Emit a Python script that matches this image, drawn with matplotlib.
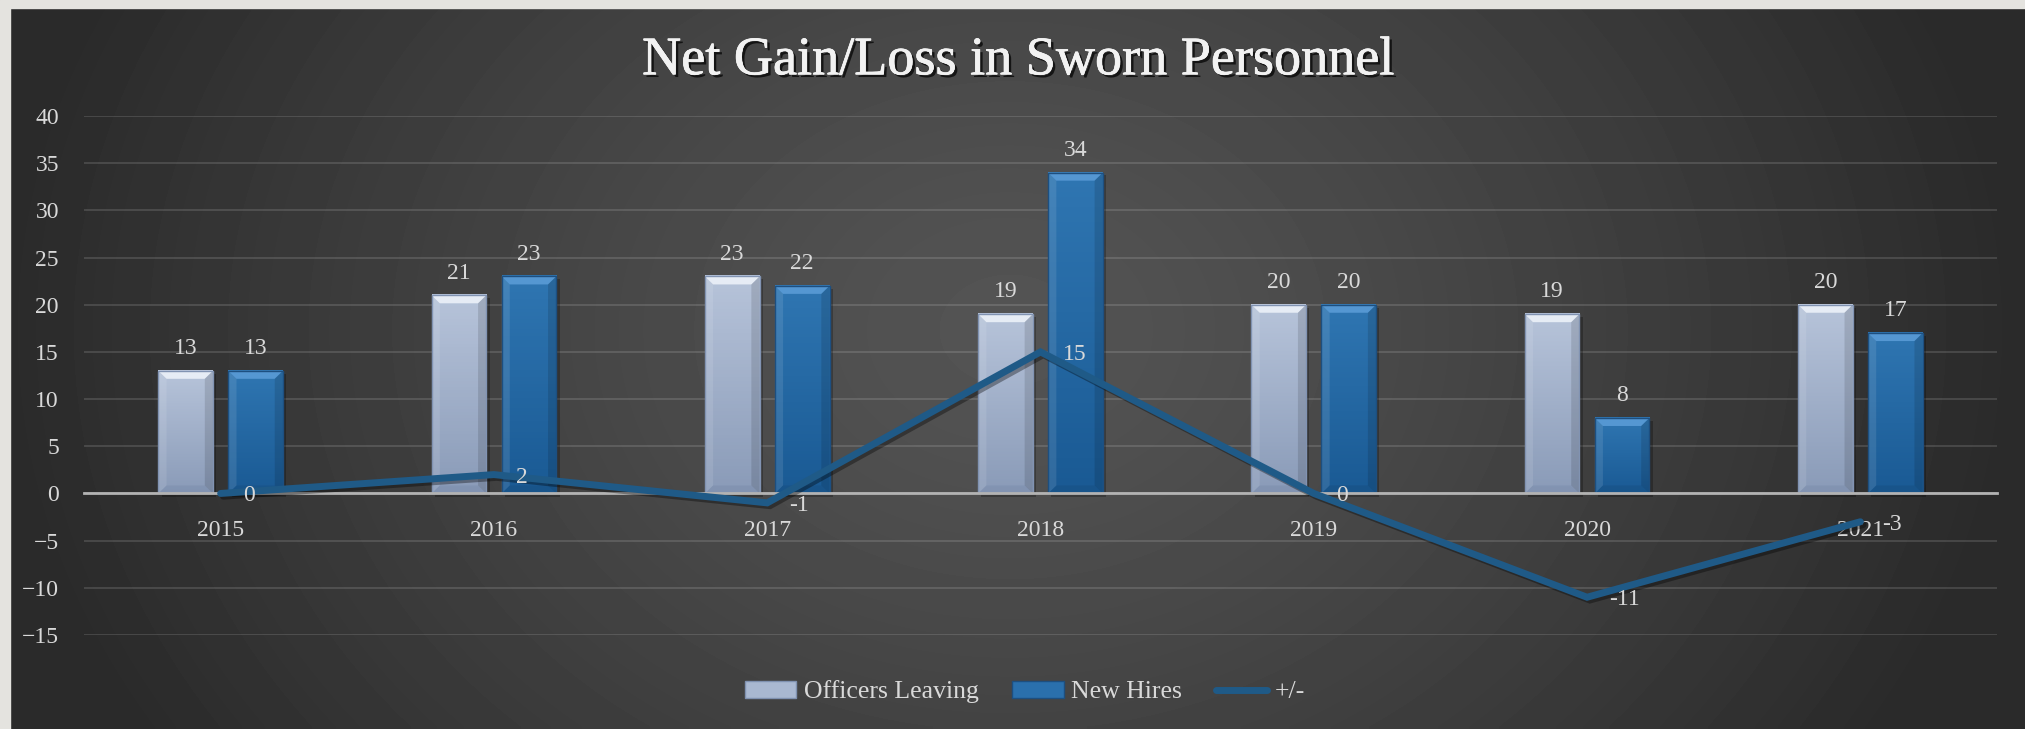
import numpy as np
import matplotlib.pyplot as plt
import matplotlib.patheffects as pe
from matplotlib.patches import Polygon, Rectangle, Patch
from matplotlib.lines import Line2D
from matplotlib.colors import LinearSegmentedColormap

# data
years = ["2015", "2016", "2017", "2018", "2019", "2020", "2021"]
officers_leaving = [13, 21, 23, 19, 20, 19, 20]
new_hires = [13, 23, 22, 34, 20, 8, 17]
net_change = [0, 2, -1, 15, 0, -11, -3]
y_ticks = [-15, -10, -5, 0, 5, 10, 15, 20, 25, 30, 35, 40]

plt.rcParams['font.family'] = ['Liberation Serif', 'DejaVu Serif']
text_color = '#d9d9d9'

fig = plt.figure(figsize=(20.25, 7.29), dpi=100)

# dark radial background with light strips at left/top
bg = fig.add_axes([0, 0, 1, 1], zorder=-10)
xx, yy = np.meshgrid(np.linspace(0, 2025, 405), np.linspace(0, 729, 146))
r = np.sqrt(((xx - 1010) / 1010) ** 2 + ((yy - 330) / 800) ** 2)
shade = (84 - 42 * np.clip(r, 0, 1) ** 1.3) / 255
bg.imshow(shade, cmap='gray', vmin=0, vmax=1, extent=[0, 2025, 729, 0],
          aspect='auto', interpolation='bilinear')
bg.add_patch(Rectangle((0, 0), 10, 729, color='#e4e3df'))
bg.add_patch(Rectangle((0, 0), 2025, 8, color='#e4e3df'))
bg.set_xlim(0, 2025)
bg.set_ylim(729, 0)
bg.axis('off')

ax = fig.add_axes([84 / 2025, 1 - 635 / 729, (1997 - 84) / 2025, (635 - 116) / 729])
ax.patch.set_alpha(0)

bar_w = 0.2
offset = 0.128
bx, by = 0.03, 0.85


def draw_bar(x, h, c_top, c_bot, bev_top, bev_bot, edge):
    x0, x1 = x - bar_w / 2, x + bar_w / 2
    # soft shadow
    ax.add_patch(Rectangle((x0 + 0.012, -0.4), bar_w, h + 0.1, color='black',
                           alpha=0.25, lw=0, zorder=1.5))
    cmap = LinearSegmentedColormap.from_list('g', [c_top, c_bot])
    ax.imshow(np.linspace(0, 1, 64).reshape(-1, 1), cmap=cmap,
              extent=[x0, x1, 0, h], aspect='auto', zorder=2)
    ax.add_patch(Polygon([(x0, h), (x1, h), (x1 - bx, h - by), (x0 + bx, h - by)],
                         color=bev_top, lw=0, zorder=2.1))
    ax.add_patch(Polygon([(x0, 0), (x1, 0), (x1 - bx, by), (x0 + bx, by)],
                         color=bev_bot, alpha=0.35, lw=0, zorder=2.1))
    ax.add_patch(Polygon([(x0, 0), (x0, h), (x0 + bx, h - by), (x0 + bx, by)],
                         color='white', alpha=0.1, lw=0, zorder=2.1))
    ax.add_patch(Polygon([(x1, 0), (x1, h), (x1 - bx, h - by), (x1 - bx, by)],
                         color='black', alpha=0.12, lw=0, zorder=2.1))
    ax.add_patch(Rectangle((x0, 0), bar_w, h, fill=False, edgecolor=edge,
                           lw=1, zorder=2.2))


for i in range(len(years)):
    draw_bar(i - offset, officers_leaving[i], '#b7c4da', '#8a9bb8',
             '#e6ecf5', '#7486a6', '#8193b2')
    draw_bar(i + offset, new_hires[i], '#2f76b2', '#1a5a94',
             '#5597d2', '#164a7a', '#1d4f80')
    ax.annotate(str(officers_leaving[i]), (i - offset, officers_leaving[i]),
                xytext=(0, 12), textcoords='offset points', ha='center',
                va='baseline', fontsize=17, color=text_color)
    ax.annotate(str(new_hires[i]), (i + offset, new_hires[i]),
                xytext=(0, 12), textcoords='offset points', ha='center',
                va='baseline', fontsize=17, color=text_color)

ax.plot(range(len(years)), net_change, color='#1f5a87', lw=5,
        solid_capstyle='round', solid_joinstyle='miter', zorder=5,
        path_effects=[pe.SimpleLineShadow(offset=(2, -2), alpha=0.35), pe.Normal()])
for i, v in enumerate(net_change):
    ax.annotate(str(v), (i, v), xytext=(16, 0), textcoords='offset points',
                ha='left', va='center_baseline', fontsize=17, color=text_color,
                zorder=6)

ax.set_xlim(-0.5, 6.5)
ax.set_ylim(-15, 40)
ax.set_xticks(range(len(years)), years)
ax.set_yticks(y_ticks)
for s in ['top', 'right', 'left']:
    ax.spines[s].set_visible(False)
ax.spines['bottom'].set_position(('data', 0))
ax.spines['bottom'].set_color('#b3b3b3')
ax.spines['bottom'].set_linewidth(2)
ax.spines['bottom'].set_zorder(3)
ax.tick_params(axis='x', length=0, pad=19, labelsize=17, labelcolor=text_color)
ax.tick_params(axis='y', length=0, pad=18, labelsize=17, labelcolor=text_color)
ax.grid(axis='y', color='white', alpha=0.13, lw=1.5)
ax.set_axisbelow(True)

# legend
handles = [Patch(facecolor='#a9b8d1', edgecolor='#7f91b0'),
           Patch(facecolor='#2a70ad', edgecolor='#1d4f80'),
           Line2D([], [], color='#1f5a87', lw=5, solid_capstyle='round')]
fig.legend(handles, ['Officers Leaving', 'New Hires', '+/-'], loc='center',
           bbox_to_anchor=(1025 / 2025, 1 - 692 / 729), ncol=3, frameon=False,
           fontsize=18.5, labelcolor=text_color, handlelength=2.0,
           handletextpad=0.3, columnspacing=1.3)

fig.text(1018 / 2025, 1 - 61 / 729, 'Net Gain/Loss in Sworn Personnel',
         ha='center', va='center', fontsize=39, color='#f2f2f2',
         path_effects=[pe.withSimplePatchShadow(offset=(2, -2),
                                                shadow_rgbFace='black', alpha=0.7),
                       pe.withStroke(linewidth=0.5, foreground='#f2f2f2')])

fig.savefig('out.png', dpi=100)
